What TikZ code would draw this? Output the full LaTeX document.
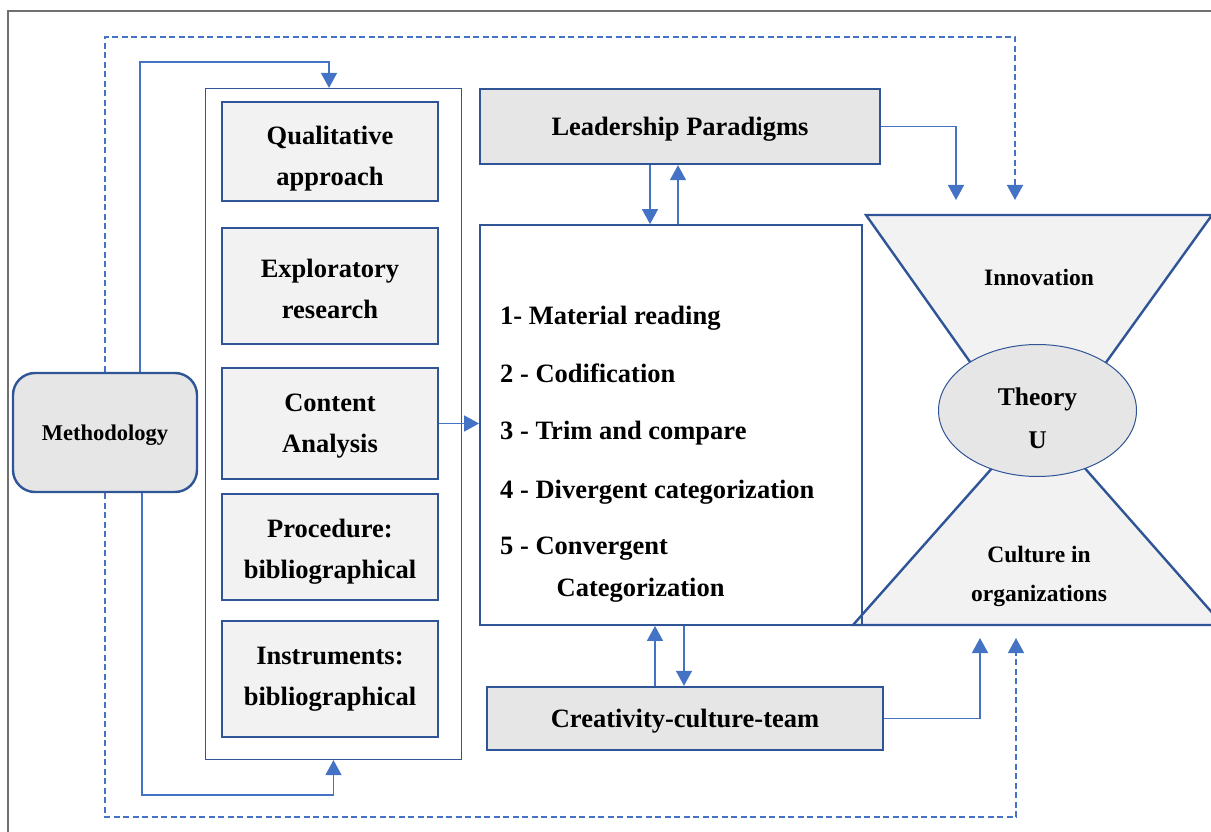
\documentclass[tikz,border=0pt]{standalone}
\usepackage{fontspec}
\setmainfont{Liberation Serif}
\usepackage{tikz}
\usetikzlibrary{arrows.meta,positioning,calc,shapes.geometric}
\definecolor{frmblue}{HTML}{2F5597}
\definecolor{lnkblue}{HTML}{4472C4}
\definecolor{boxfill}{HTML}{F2F2F2}
\definecolor{hdrfill}{HTML}{E6E6E6}
\definecolor{pagerule}{HTML}{707070}

\begin{document}
\begin{tikzpicture}[x=1pt, y=-1pt, >={Triangle[length=15pt,width=16pt]},
  txt/.style={font=\fontsize{26.5}{41}\selectfont\bfseries, align=center},
  stage/.style={draw=frmblue, line width=2.4pt, fill=boxfill, minimum width=216pt, inner sep=0pt},
  hdr/.style={txt, draw=frmblue, line width=2.4pt, fill=hdrfill, inner sep=0pt, text depth=0pt},
  frame/.style={draw=frmblue, line width=1.2pt},
  item/.style={font=\fontsize{26.5}{30}\selectfont\bfseries, anchor=base west, inner sep=0pt},
  hg/.style={draw=frmblue, line width=2.4pt, fill=boxfill},
  hgtxt/.style={font=\fontsize{23.5}{39.5}\selectfont\bfseries, align=center, inner sep=0pt},
  link/.style={lnkblue, line width=1.5pt},
  dlink/.style={link, dash pattern=on 6pt off 3.5pt}]
  \useasboundingbox (0,0) rectangle (1211,832);
  \clip (0,0) rectangle (1211,832);
  \draw[pagerule, line width=2pt] (8,832) -- (8,11) -- (1211,11);
  % ---- hourglass ----
  \coordinate (hgtop) at (1038,215);
  \coordinate (hgbot) at (1038,625);
  \filldraw[hg] (866,215) -- (1212,215) -- (1079,400) -- (997,400) -- cycle;
  \filldraw[hg] (853,625) -- (1223,625) -- (1060,440) -- (1017,440) -- cycle;
  \node[ellipse, draw=frmblue, line width=1pt, fill=hdrfill, minimum width=198pt, minimum height=132pt] (tu) at (1037.5,410.5) {};
  \node[hgtxt, font=\fontsize{25.5}{43}\selectfont\bfseries] (tutxt) at ([yshift=-7.5pt]tu.center) {Theory\\U};
  \node[hgtxt] (inno) at (1039,277) {Innovation};
  \node[hgtxt] (cult) at (1039,576.5) {Culture in\\organizations};
  % ---- method column ----
  \node[frame, minimum width=256pt, minimum height=671pt] (col) at (333.5,424) {};
  \foreach \nm/\y/\h/\d/\t in {qa/151.5/99/7/{Qualitative\\approach}, er/286/116/2.5/{Exploratory\\research},
      ca/423.5/111/2.5/{Content\\Analysis}, pb/547/106/5/{Procedure:\\bibliographical}, ib/679/116/0/{Instruments:\\bibliographical}}
    { \node[stage, minimum height=\h pt, label={[txt, yshift=-\d pt]center:\t}] (\nm) at (330,\y) {}; }
  \node[hdr, rounded corners=22pt, minimum width=184pt, minimum height=119pt, font=\fontsize{22.5}{27}\selectfont\bfseries] (meth) at (105,432.5) {Methodology};
  % ---- analysis steps ----
  \node[hdr, minimum width=400pt, minimum height=75pt] (lp) at (680,126.5) {Leadership Paradigms};
  \node[frame, line width=1.8pt, minimum width=382pt, minimum height=400pt] (big) at (671,425) {};
  \node[hdr, minimum width=396pt, minimum height=63pt] (cr) at (685,718.5) {Creativity-culture-team};
  \foreach \y/\t [count=\k] in {324.5/{1- Material reading}, 382/{2 - Codification}, 439.5/{3 - Trim and compare},
      498/{4 - Divergent categorization}, 554.5/{5 - Convergent}}
    { \node[item] (st\k) at (500,\y) {\t}; }
  \node[item] (st6) at (556.5,596) {Categorization};
  % ---- connectors ----
  \draw[link, ->] ([xshift=35pt]meth.north) |- ([xshift=-4.5pt, yshift=26pt]col.north) -- ([xshift=-4.5pt]col.north);
  \draw[link, ->] ([xshift=37pt]meth.south) |- ([yshift=-35pt]col.south) -- (col.south);
  \draw[dlink, ->] (meth.north) -- ++(0,-335) -| ([xshift=-23pt, yshift=15pt]hgtop);
  \draw[dlink, ->] (meth.south) -- ++(0,324) -| ([xshift=-22pt, yshift=-13pt]hgbot);
  \draw[link, ->] (ca.east) -- (ca.east -| big.west);
  \draw[link, ->] ([xshift=-30pt]lp.south) -- ([xshift=-30pt]lp.south |- big.north);
  \draw[link, ->] ([xshift=-2pt]lp.south |- big.north) -- ([xshift=-2pt]lp.south);
  \draw[link, ->] ([xshift=-30pt]cr.north) -- ([xshift=-30pt]cr.north |- big.south);
  \draw[link, ->] ([xshift=-1pt]cr.north |- big.south) -- ([xshift=-1pt]cr.north);
  \draw[link, ->] (lp.east) -| ([xshift=-82pt, yshift=15pt]hgtop);
  \draw[link, ->] (cr.east) -| ([xshift=-58pt, yshift=-13pt]hgbot);
\end{tikzpicture}
\end{document}
